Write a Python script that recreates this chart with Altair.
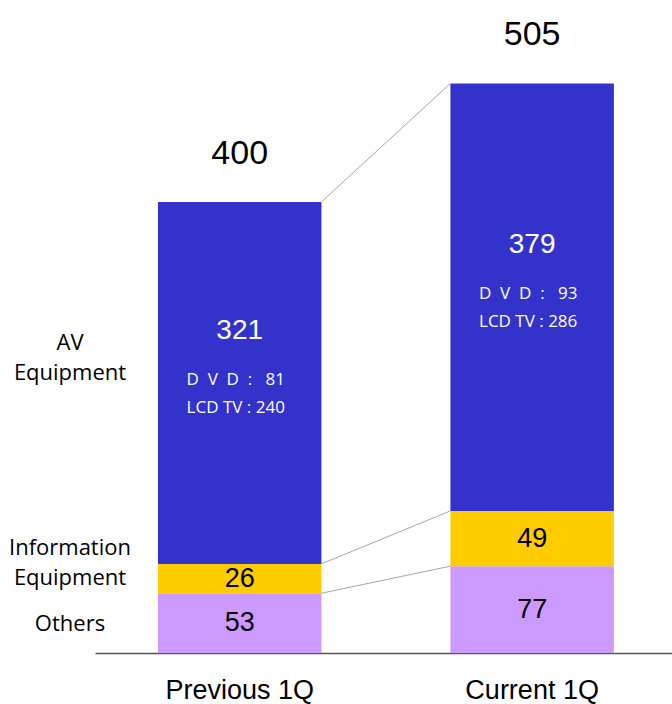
import altair as alt
import pandas as pd

# ---- data ----
periods = ["Previous 1Q", "Current 1Q"]
segments = ["Others", "Information Equipment", "AV Equipment"]
others = [53, 77]
info = [26, 49]
av = [321, 379]
dvd = [81, 93]
lcd_tv = [240, 286]
totals = [400, 505]
seg_labels = ["Others", "Information\nEquipment", "AV\nEquipment"]
colors = ["#CC99FF", "#FFCC00", "#3333CC"]

NB = "\u00a0"

# ---- tables built from the arrays ----
rows = []
for i, p in enumerate(periods):
    base = 0
    for rank, (seg, vals) in enumerate(zip(segments, [others, info, av])):
        v = vals[i]
        rows.append(dict(period=p, segment=seg, rank=rank, value=v,
                         y0=base, y1=base + v, mid=base + v / 2,
                         dvd=f"D{NB*2}V{NB*2}D{NB*2}:{NB*3}{dvd[i]}",
                         lcd=f"LCD TV{NB}:{NB}{lcd_tv[i]}",
                         label=seg_labels[rank]))
        base += v
df = pd.DataFrame(rows)

tot_df = pd.DataFrame(dict(period=periods, total=totals))

conn_rows = []
for seg in segments:
    a = df[(df.period == periods[0]) & (df.segment == seg)].y1.iloc[0]
    b = df[(df.period == periods[1]) & (df.segment == seg)].y1.iloc[0]
    conn_rows.append(dict(src=periods[0], dst=periods[1], ya=a, yb=b))
conn_df = pd.DataFrame(conn_rows)

xscale = alt.Scale(domain=periods, paddingInner=0.441, paddingOuter=0.207, align=0.52)
yscale = alt.Scale(domain=[0, 579], nice=False, zero=True)

base = alt.Chart(df)

bars = base.mark_bar(stroke=None).encode(
    x=alt.X("period:N", scale=xscale, sort=periods, title=None,
            axis=alt.Axis(labelAngle=0, ticks=False, grid=False, labelFont="Liberation Sans",
                          labelFontSize=27, labelColor="#000000", labelPadding=24,
                          domainColor="#555555", domainWidth=1.5)),
    y=alt.Y("y0:Q", scale=yscale, axis=None),
    y2="y1:Q",
    color=alt.Color("segment:N", scale=alt.Scale(domain=segments, range=colors), legend=None),
)

connectors = alt.Chart(conn_df).mark_rule(color="#A6A6A6", strokeWidth=1).encode(
    x=alt.X("src:N", scale=xscale, bandPosition=1),
    x2=alt.X2("dst:N", bandPosition=0),
    y=alt.Y("ya:Q", scale=yscale),
    y2="yb:Q",
)

small_vals = base.transform_filter(alt.datum.segment != "AV Equipment").mark_text(
    font="Liberation Sans", fontSize=27, color="#000000", baseline="middle"
).encode(x=alt.X("period:N", scale=xscale), y=alt.Y("mid:Q", scale=yscale), text="value:Q")

av_vals = base.transform_filter(alt.datum.segment == "AV Equipment").mark_text(
    font="Liberation Sans", fontSize=28, color="#FFFFFF", baseline="middle", dy=-52
).encode(x=alt.X("period:N", scale=xscale), y=alt.Y("mid:Q", scale=yscale), text="value:Q")

dvd_txt = base.transform_filter(alt.datum.segment == "AV Equipment").mark_text(
    font="Open Sans", fontSize=17, color="#FFFFFF", baseline="middle", dy=-3, dx=-4
).encode(x=alt.X("period:N", scale=xscale), y=alt.Y("mid:Q", scale=yscale), text="dvd:N")

lcd_txt = base.transform_filter(alt.datum.segment == "AV Equipment").mark_text(
    font="Open Sans", fontSize=17, color="#FFFFFF", baseline="middle", dy=25, dx=-4
).encode(x=alt.X("period:N", scale=xscale), y=alt.Y("mid:Q", scale=yscale), text="lcd:N")

totals_txt = alt.Chart(tot_df).mark_text(
    font="Liberation Sans", fontSize=34, color="#000000", baseline="alphabetic", dy=-38
).encode(x=alt.X("period:N", scale=xscale), y=alt.Y("total:Q", scale=yscale), text="total:Q")

left_labels = []
for seg, dy in zip(segments, [1, -31, -40]):
    left_labels.append(
        base.transform_filter((alt.datum.segment == seg) & (alt.datum.period == periods[0]))
        .mark_text(font="Open Sans", fontSize=22, color="#000000", align="center",
                   baseline="middle", lineBreak="\n", lineHeight=30, dy=dy)
        .encode(x=alt.value(-25), y=alt.Y("mid:Q", scale=yscale), text="label:N")
    )

chart = alt.layer(bars, connectors, small_vals, av_vals, dvd_txt, lcd_txt, totals_txt, *left_labels).properties(
    width=577, height=653,
    padding={"left": 95, "top": 0, "right": 0, "bottom": 51},
    autosize=alt.AutoSizeParams(type="none"),
    background="#FFFFFF",
).configure_view(stroke=None)

chart.save("out.html", embed_options={"renderer": "svg", "actions": False})
